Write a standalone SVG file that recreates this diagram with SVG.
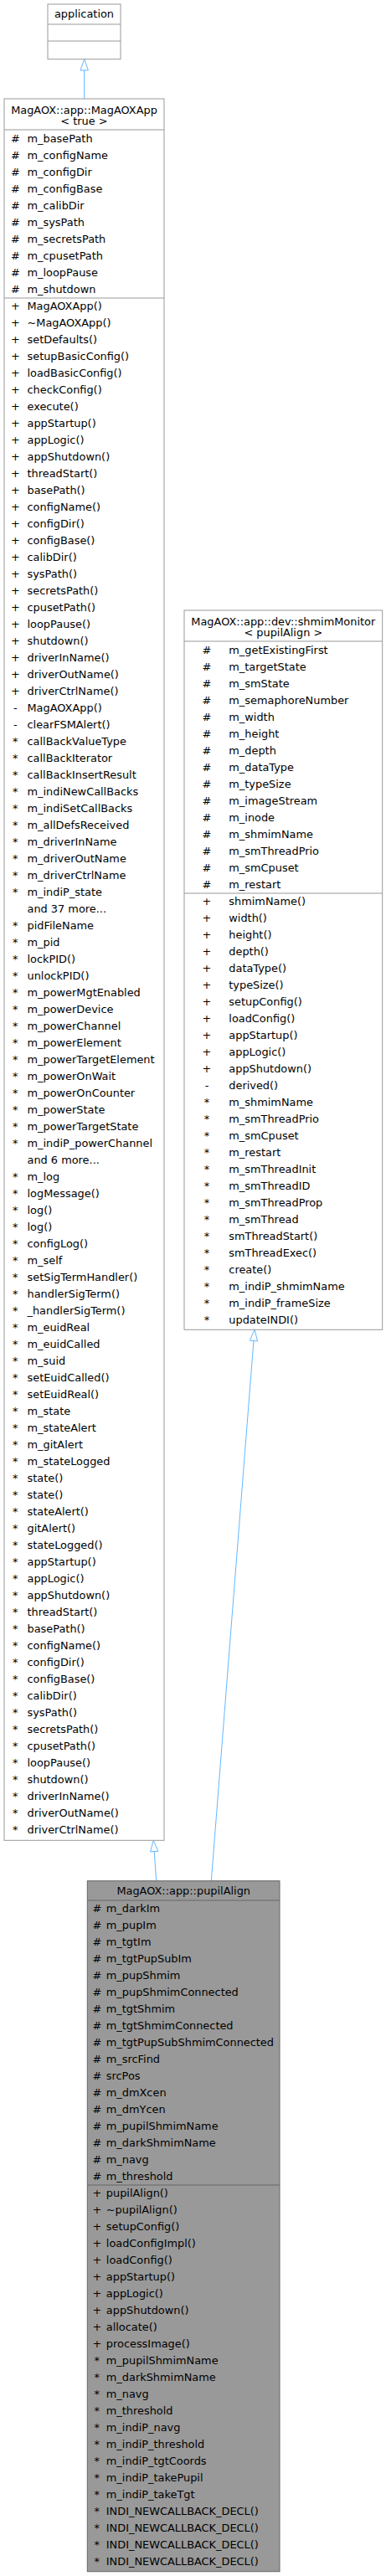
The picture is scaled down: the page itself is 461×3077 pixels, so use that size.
<svg xmlns="http://www.w3.org/2000/svg" width="461" height="3077" viewBox="0 0 461 3077">
<style>
text{font-family:"DejaVu Sans","Liberation Sans",sans-serif;font-size:12.9px;fill:#000}
.c{text-anchor:middle}
.box{fill:#fff;stroke:#999;stroke-width:1}
.hl{fill:#999;stroke:#666;stroke-width:1}
.dv{stroke:#999;stroke-width:1}
.dvh{stroke:#666;stroke-width:1}
.e{fill:none;stroke:#63b8ff;stroke-width:1}
</style>
<rect width="461" height="3077" fill="#fff"/>
<g id="edges">
<line class="e" x1="100.7" y1="84" x2="100.7" y2="118"/>
<polygon class="e" points="100.7,70.7 105.4,84 96,84"/>
<line class="e" x1="184.2" y1="2211.6" x2="186.7" y2="2246.7"/>
<polygon class="e" points="183.3,2198.3 188.9,2211.3 179.5,2211.9"/>
<line class="e" x1="302.95" y1="1601.6" x2="252.3" y2="2246.7"/>
<polygon class="e" points="304,1588.3 307.6,1602 298.3,1601.2"/>
</g>
<g id="application">
<rect class="box" x="57" y="5" width="87" height="65.7"/>
<line class="dv" x1="57" y1="29" x2="144" y2="29"/>
<line class="dv" x1="57" y1="49" x2="144" y2="49"/>
<text class="c" x="100.5" y="21">application</text>
</g>
<g id="MagAOXApp">
<rect class="box" x="5" y="118" width="191" height="2080.3"/>
<line class="dv" x1="5" y1="155" x2="196" y2="155"/>
<line class="dv" x1="5" y1="356" x2="196" y2="356"/>
<text class="c" x="100.5" y="135.5">MagAOX::app::MagAOXApp</text>
<text class="c" x="100.5" y="149">&lt; true &gt;</text>
<text class="c" x="18.3" y="169.5">#</text><text x="32.5" y="169.5">m_basePath</text>
<text class="c" x="18.3" y="189.5">#</text><text x="32.5" y="189.5">m_configName</text>
<text class="c" x="18.3" y="209.5">#</text><text x="32.5" y="209.5">m_configDir</text>
<text class="c" x="18.3" y="229.5">#</text><text x="32.5" y="229.5">m_configBase</text>
<text class="c" x="18.3" y="249.5">#</text><text x="32.5" y="249.5">m_calibDir</text>
<text class="c" x="18.3" y="269.5">#</text><text x="32.5" y="269.5">m_sysPath</text>
<text class="c" x="18.3" y="289.5">#</text><text x="32.5" y="289.5">m_secretsPath</text>
<text class="c" x="18.3" y="309.5">#</text><text x="32.5" y="309.5">m_cpusetPath</text>
<text class="c" x="18.3" y="329.5">#</text><text x="32.5" y="329.5">m_loopPause</text>
<text class="c" x="18.3" y="349.5">#</text><text x="32.5" y="349.5">m_shutdown</text>
<text class="c" x="18.3" y="369.5">+</text><text x="32.5" y="369.5">MagAOXApp()</text>
<text class="c" x="18.3" y="389.5">+</text><text x="32.5" y="389.5">~MagAOXApp()</text>
<text class="c" x="18.3" y="409.5">+</text><text x="32.5" y="409.5">setDefaults()</text>
<text class="c" x="18.3" y="429.5">+</text><text x="32.5" y="429.5">setupBasicConfig()</text>
<text class="c" x="18.3" y="449.5">+</text><text x="32.5" y="449.5">loadBasicConfig()</text>
<text class="c" x="18.3" y="469.5">+</text><text x="32.5" y="469.5">checkConfig()</text>
<text class="c" x="18.3" y="489.5">+</text><text x="32.5" y="489.5">execute()</text>
<text class="c" x="18.3" y="509.5">+</text><text x="32.5" y="509.5">appStartup()</text>
<text class="c" x="18.3" y="529.5">+</text><text x="32.5" y="529.5">appLogic()</text>
<text class="c" x="18.3" y="549.5">+</text><text x="32.5" y="549.5">appShutdown()</text>
<text class="c" x="18.3" y="569.5">+</text><text x="32.5" y="569.5">threadStart()</text>
<text class="c" x="18.3" y="589.5">+</text><text x="32.5" y="589.5">basePath()</text>
<text class="c" x="18.3" y="609.5">+</text><text x="32.5" y="609.5">configName()</text>
<text class="c" x="18.3" y="629.5">+</text><text x="32.5" y="629.5">configDir()</text>
<text class="c" x="18.3" y="649.5">+</text><text x="32.5" y="649.5">configBase()</text>
<text class="c" x="18.3" y="669.5">+</text><text x="32.5" y="669.5">calibDir()</text>
<text class="c" x="18.3" y="689.5">+</text><text x="32.5" y="689.5">sysPath()</text>
<text class="c" x="18.3" y="709.5">+</text><text x="32.5" y="709.5">secretsPath()</text>
<text class="c" x="18.3" y="729.5">+</text><text x="32.5" y="729.5">cpusetPath()</text>
<text class="c" x="18.3" y="749.5">+</text><text x="32.5" y="749.5">loopPause()</text>
<text class="c" x="18.3" y="769.5">+</text><text x="32.5" y="769.5">shutdown()</text>
<text class="c" x="18.3" y="789.5">+</text><text x="32.5" y="789.5">driverInName()</text>
<text class="c" x="18.3" y="809.5">+</text><text x="32.5" y="809.5">driverOutName()</text>
<text class="c" x="18.3" y="829.5">+</text><text x="32.5" y="829.5">driverCtrlName()</text>
<text class="c" x="18.3" y="849.5">-</text><text x="32.5" y="849.5">MagAOXApp()</text>
<text class="c" x="18.3" y="869.5">-</text><text x="32.5" y="869.5">clearFSMAlert()</text>
<text class="c" x="18.3" y="889.5">*</text><text x="32.5" y="889.5">callBackValueType</text>
<text class="c" x="18.3" y="909.5">*</text><text x="32.5" y="909.5">callBackIterator</text>
<text class="c" x="18.3" y="929.5">*</text><text x="32.5" y="929.5">callBackInsertResult</text>
<text class="c" x="18.3" y="949.5">*</text><text x="32.5" y="949.5">m_indiNewCallBacks</text>
<text class="c" x="18.3" y="969.5">*</text><text x="32.5" y="969.5">m_indiSetCallBacks</text>
<text class="c" x="18.3" y="989.5">*</text><text x="32.5" y="989.5">m_allDefsReceived</text>
<text class="c" x="18.3" y="1009.5">*</text><text x="32.5" y="1009.5">m_driverInName</text>
<text class="c" x="18.3" y="1029.5">*</text><text x="32.5" y="1029.5">m_driverOutName</text>
<text class="c" x="18.3" y="1049.5">*</text><text x="32.5" y="1049.5">m_driverCtrlName</text>
<text class="c" x="18.3" y="1069.5">*</text><text x="32.5" y="1069.5">m_indiP_state</text>
<text x="32.5" y="1089.5">and 37 more...</text>
<text class="c" x="18.3" y="1109.5">*</text><text x="32.5" y="1109.5">pidFileName</text>
<text class="c" x="18.3" y="1129.5">*</text><text x="32.5" y="1129.5">m_pid</text>
<text class="c" x="18.3" y="1149.5">*</text><text x="32.5" y="1149.5">lockPID()</text>
<text class="c" x="18.3" y="1169.5">*</text><text x="32.5" y="1169.5">unlockPID()</text>
<text class="c" x="18.3" y="1189.5">*</text><text x="32.5" y="1189.5">m_powerMgtEnabled</text>
<text class="c" x="18.3" y="1209.5">*</text><text x="32.5" y="1209.5">m_powerDevice</text>
<text class="c" x="18.3" y="1229.5">*</text><text x="32.5" y="1229.5">m_powerChannel</text>
<text class="c" x="18.3" y="1249.5">*</text><text x="32.5" y="1249.5">m_powerElement</text>
<text class="c" x="18.3" y="1269.5">*</text><text x="32.5" y="1269.5">m_powerTargetElement</text>
<text class="c" x="18.3" y="1289.5">*</text><text x="32.5" y="1289.5">m_powerOnWait</text>
<text class="c" x="18.3" y="1309.5">*</text><text x="32.5" y="1309.5">m_powerOnCounter</text>
<text class="c" x="18.3" y="1329.5">*</text><text x="32.5" y="1329.5">m_powerState</text>
<text class="c" x="18.3" y="1349.5">*</text><text x="32.5" y="1349.5">m_powerTargetState</text>
<text class="c" x="18.3" y="1369.5">*</text><text x="32.5" y="1369.5">m_indiP_powerChannel</text>
<text x="32.5" y="1389.5">and 6 more...</text>
<text class="c" x="18.3" y="1409.5">*</text><text x="32.5" y="1409.5">m_log</text>
<text class="c" x="18.3" y="1429.5">*</text><text x="32.5" y="1429.5">logMessage()</text>
<text class="c" x="18.3" y="1449.5">*</text><text x="32.5" y="1449.5">log()</text>
<text class="c" x="18.3" y="1469.5">*</text><text x="32.5" y="1469.5">log()</text>
<text class="c" x="18.3" y="1489.5">*</text><text x="32.5" y="1489.5">configLog()</text>
<text class="c" x="18.3" y="1509.5">*</text><text x="32.5" y="1509.5">m_self</text>
<text class="c" x="18.3" y="1529.5">*</text><text x="32.5" y="1529.5">setSigTermHandler()</text>
<text class="c" x="18.3" y="1549.5">*</text><text x="32.5" y="1549.5">handlerSigTerm()</text>
<text class="c" x="18.3" y="1569.5">*</text><text x="32.5" y="1569.5">_handlerSigTerm()</text>
<text class="c" x="18.3" y="1589.5">*</text><text x="32.5" y="1589.5">m_euidReal</text>
<text class="c" x="18.3" y="1609.5">*</text><text x="32.5" y="1609.5">m_euidCalled</text>
<text class="c" x="18.3" y="1629.5">*</text><text x="32.5" y="1629.5">m_suid</text>
<text class="c" x="18.3" y="1649.5">*</text><text x="32.5" y="1649.5">setEuidCalled()</text>
<text class="c" x="18.3" y="1669.5">*</text><text x="32.5" y="1669.5">setEuidReal()</text>
<text class="c" x="18.3" y="1689.5">*</text><text x="32.5" y="1689.5">m_state</text>
<text class="c" x="18.3" y="1709.5">*</text><text x="32.5" y="1709.5">m_stateAlert</text>
<text class="c" x="18.3" y="1729.5">*</text><text x="32.5" y="1729.5">m_gitAlert</text>
<text class="c" x="18.3" y="1749.5">*</text><text x="32.5" y="1749.5">m_stateLogged</text>
<text class="c" x="18.3" y="1769.5">*</text><text x="32.5" y="1769.5">state()</text>
<text class="c" x="18.3" y="1789.5">*</text><text x="32.5" y="1789.5">state()</text>
<text class="c" x="18.3" y="1809.5">*</text><text x="32.5" y="1809.5">stateAlert()</text>
<text class="c" x="18.3" y="1829.5">*</text><text x="32.5" y="1829.5">gitAlert()</text>
<text class="c" x="18.3" y="1849.5">*</text><text x="32.5" y="1849.5">stateLogged()</text>
<text class="c" x="18.3" y="1869.5">*</text><text x="32.5" y="1869.5">appStartup()</text>
<text class="c" x="18.3" y="1889.5">*</text><text x="32.5" y="1889.5">appLogic()</text>
<text class="c" x="18.3" y="1909.5">*</text><text x="32.5" y="1909.5">appShutdown()</text>
<text class="c" x="18.3" y="1929.5">*</text><text x="32.5" y="1929.5">threadStart()</text>
<text class="c" x="18.3" y="1949.5">*</text><text x="32.5" y="1949.5">basePath()</text>
<text class="c" x="18.3" y="1969.5">*</text><text x="32.5" y="1969.5">configName()</text>
<text class="c" x="18.3" y="1989.5">*</text><text x="32.5" y="1989.5">configDir()</text>
<text class="c" x="18.3" y="2009.5">*</text><text x="32.5" y="2009.5">configBase()</text>
<text class="c" x="18.3" y="2029.5">*</text><text x="32.5" y="2029.5">calibDir()</text>
<text class="c" x="18.3" y="2049.5">*</text><text x="32.5" y="2049.5">sysPath()</text>
<text class="c" x="18.3" y="2069.5">*</text><text x="32.5" y="2069.5">secretsPath()</text>
<text class="c" x="18.3" y="2089.5">*</text><text x="32.5" y="2089.5">cpusetPath()</text>
<text class="c" x="18.3" y="2109.5">*</text><text x="32.5" y="2109.5">loopPause()</text>
<text class="c" x="18.3" y="2129.5">*</text><text x="32.5" y="2129.5">shutdown()</text>
<text class="c" x="18.3" y="2149.5">*</text><text x="32.5" y="2149.5">driverInName()</text>
<text class="c" x="18.3" y="2169.5">*</text><text x="32.5" y="2169.5">driverOutName()</text>
<text class="c" x="18.3" y="2189.5">*</text><text x="32.5" y="2189.5">driverCtrlName()</text>
</g>
<g id="shmimMonitor">
<rect class="box" x="220" y="729" width="236.7" height="859.3"/>
<line class="dv" x1="220" y1="766" x2="456.7" y2="766"/>
<line class="dv" x1="220" y1="1067" x2="456.7" y2="1067"/>
<text class="c" x="338.3" y="746.5">MagAOX::app::dev::shmimMonitor</text>
<text class="c" x="338.3" y="760">&lt; pupilAlign &gt;</text>
<text class="c" x="247" y="780.5">#</text><text x="273.3" y="780.5">m_getExistingFirst</text>
<text class="c" x="247" y="800.5">#</text><text x="273.3" y="800.5">m_targetState</text>
<text class="c" x="247" y="820.5">#</text><text x="273.3" y="820.5">m_smState</text>
<text class="c" x="247" y="840.5">#</text><text x="273.3" y="840.5">m_semaphoreNumber</text>
<text class="c" x="247" y="860.5">#</text><text x="273.3" y="860.5">m_width</text>
<text class="c" x="247" y="880.5">#</text><text x="273.3" y="880.5">m_height</text>
<text class="c" x="247" y="900.5">#</text><text x="273.3" y="900.5">m_depth</text>
<text class="c" x="247" y="920.5">#</text><text x="273.3" y="920.5">m_dataType</text>
<text class="c" x="247" y="940.5">#</text><text x="273.3" y="940.5">m_typeSize</text>
<text class="c" x="247" y="960.5">#</text><text x="273.3" y="960.5">m_imageStream</text>
<text class="c" x="247" y="980.5">#</text><text x="273.3" y="980.5">m_inode</text>
<text class="c" x="247" y="1000.5">#</text><text x="273.3" y="1000.5">m_shmimName</text>
<text class="c" x="247" y="1020.5">#</text><text x="273.3" y="1020.5">m_smThreadPrio</text>
<text class="c" x="247" y="1040.5">#</text><text x="273.3" y="1040.5">m_smCpuset</text>
<text class="c" x="247" y="1060.5">#</text><text x="273.3" y="1060.5">m_restart</text>
<text class="c" x="247" y="1080.5">+</text><text x="273.3" y="1080.5">shmimName()</text>
<text class="c" x="247" y="1100.5">+</text><text x="273.3" y="1100.5">width()</text>
<text class="c" x="247" y="1120.5">+</text><text x="273.3" y="1120.5">height()</text>
<text class="c" x="247" y="1140.5">+</text><text x="273.3" y="1140.5">depth()</text>
<text class="c" x="247" y="1160.5">+</text><text x="273.3" y="1160.5">dataType()</text>
<text class="c" x="247" y="1180.5">+</text><text x="273.3" y="1180.5">typeSize()</text>
<text class="c" x="247" y="1200.5">+</text><text x="273.3" y="1200.5">setupConfig()</text>
<text class="c" x="247" y="1220.5">+</text><text x="273.3" y="1220.5">loadConfig()</text>
<text class="c" x="247" y="1240.5">+</text><text x="273.3" y="1240.5">appStartup()</text>
<text class="c" x="247" y="1260.5">+</text><text x="273.3" y="1260.5">appLogic()</text>
<text class="c" x="247" y="1280.5">+</text><text x="273.3" y="1280.5">appShutdown()</text>
<text class="c" x="247" y="1300.5">-</text><text x="273.3" y="1300.5">derived()</text>
<text class="c" x="247" y="1320.5">*</text><text x="273.3" y="1320.5">m_shmimName</text>
<text class="c" x="247" y="1340.5">*</text><text x="273.3" y="1340.5">m_smThreadPrio</text>
<text class="c" x="247" y="1360.5">*</text><text x="273.3" y="1360.5">m_smCpuset</text>
<text class="c" x="247" y="1380.5">*</text><text x="273.3" y="1380.5">m_restart</text>
<text class="c" x="247" y="1400.5">*</text><text x="273.3" y="1400.5">m_smThreadInit</text>
<text class="c" x="247" y="1420.5">*</text><text x="273.3" y="1420.5">m_smThreadID</text>
<text class="c" x="247" y="1440.5">*</text><text x="273.3" y="1440.5">m_smThreadProp</text>
<text class="c" x="247" y="1460.5">*</text><text x="273.3" y="1460.5">m_smThread</text>
<text class="c" x="247" y="1480.5">*</text><text x="273.3" y="1480.5">smThreadStart()</text>
<text class="c" x="247" y="1500.5">*</text><text x="273.3" y="1500.5">smThreadExec()</text>
<text class="c" x="247" y="1520.5">*</text><text x="273.3" y="1520.5">create()</text>
<text class="c" x="247" y="1540.5">*</text><text x="273.3" y="1540.5">m_indiP_shmimName</text>
<text class="c" x="247" y="1560.5">*</text><text x="273.3" y="1560.5">m_indiP_frameSize</text>
<text class="c" x="247" y="1580.5">*</text><text x="273.3" y="1580.5">updateINDI()</text>
</g>
<g id="pupilAlign">
<rect class="hl" x="104.3" y="2246.7" width="229.7" height="825"/>
<line class="dvh" x1="104.3" y1="2270" x2="334" y2="2270"/>
<line class="dvh" x1="104.3" y1="2610" x2="334" y2="2610"/>
<text class="c" x="219.2" y="2263">MagAOX::app::pupilAlign</text>
<text class="c" x="115.8" y="2283.5">#</text><text x="126.8" y="2283.5">m_darkIm</text>
<text class="c" x="115.8" y="2303.5">#</text><text x="126.8" y="2303.5">m_pupIm</text>
<text class="c" x="115.8" y="2323.5">#</text><text x="126.8" y="2323.5">m_tgtIm</text>
<text class="c" x="115.8" y="2343.5">#</text><text x="126.8" y="2343.5">m_tgtPupSubIm</text>
<text class="c" x="115.8" y="2363.5">#</text><text x="126.8" y="2363.5">m_pupShmim</text>
<text class="c" x="115.8" y="2383.5">#</text><text x="126.8" y="2383.5">m_pupShmimConnected</text>
<text class="c" x="115.8" y="2403.5">#</text><text x="126.8" y="2403.5">m_tgtShmim</text>
<text class="c" x="115.8" y="2423.5">#</text><text x="126.8" y="2423.5">m_tgtShmimConnected</text>
<text class="c" x="115.8" y="2443.5">#</text><text x="126.8" y="2443.5">m_tgtPupSubShmimConnected</text>
<text class="c" x="115.8" y="2463.5">#</text><text x="126.8" y="2463.5">m_srcFind</text>
<text class="c" x="115.8" y="2483.5">#</text><text x="126.8" y="2483.5">srcPos</text>
<text class="c" x="115.8" y="2503.5">#</text><text x="126.8" y="2503.5">m_dmXcen</text>
<text class="c" x="115.8" y="2523.5">#</text><text x="126.8" y="2523.5">m_dmYcen</text>
<text class="c" x="115.8" y="2543.5">#</text><text x="126.8" y="2543.5">m_pupilShmimName</text>
<text class="c" x="115.8" y="2563.5">#</text><text x="126.8" y="2563.5">m_darkShmimName</text>
<text class="c" x="115.8" y="2583.5">#</text><text x="126.8" y="2583.5">m_navg</text>
<text class="c" x="115.8" y="2603.5">#</text><text x="126.8" y="2603.5">m_threshold</text>
<text class="c" x="115.8" y="2623.5">+</text><text x="126.8" y="2623.5">pupilAlign()</text>
<text class="c" x="115.8" y="2643.5">+</text><text x="126.8" y="2643.5">~pupilAlign()</text>
<text class="c" x="115.8" y="2663.5">+</text><text x="126.8" y="2663.5">setupConfig()</text>
<text class="c" x="115.8" y="2683.5">+</text><text x="126.8" y="2683.5">loadConfigImpl()</text>
<text class="c" x="115.8" y="2703.5">+</text><text x="126.8" y="2703.5">loadConfig()</text>
<text class="c" x="115.8" y="2723.5">+</text><text x="126.8" y="2723.5">appStartup()</text>
<text class="c" x="115.8" y="2743.5">+</text><text x="126.8" y="2743.5">appLogic()</text>
<text class="c" x="115.8" y="2763.5">+</text><text x="126.8" y="2763.5">appShutdown()</text>
<text class="c" x="115.8" y="2783.5">+</text><text x="126.8" y="2783.5">allocate()</text>
<text class="c" x="115.8" y="2803.5">+</text><text x="126.8" y="2803.5">processImage()</text>
<text class="c" x="115.8" y="2823.5">*</text><text x="126.8" y="2823.5">m_pupilShmimName</text>
<text class="c" x="115.8" y="2843.5">*</text><text x="126.8" y="2843.5">m_darkShmimName</text>
<text class="c" x="115.8" y="2863.5">*</text><text x="126.8" y="2863.5">m_navg</text>
<text class="c" x="115.8" y="2883.5">*</text><text x="126.8" y="2883.5">m_threshold</text>
<text class="c" x="115.8" y="2903.5">*</text><text x="126.8" y="2903.5">m_indiP_navg</text>
<text class="c" x="115.8" y="2923.5">*</text><text x="126.8" y="2923.5">m_indiP_threshold</text>
<text class="c" x="115.8" y="2943.5">*</text><text x="126.8" y="2943.5">m_indiP_tgtCoords</text>
<text class="c" x="115.8" y="2963.5">*</text><text x="126.8" y="2963.5">m_indiP_takePupil</text>
<text class="c" x="115.8" y="2983.5">*</text><text x="126.8" y="2983.5">m_indiP_takeTgt</text>
<text class="c" x="115.8" y="3003.5">*</text><text x="126.8" y="3003.5">INDI_NEWCALLBACK_DECL()</text>
<text class="c" x="115.8" y="3023.5">*</text><text x="126.8" y="3023.5">INDI_NEWCALLBACK_DECL()</text>
<text class="c" x="115.8" y="3043.5">*</text><text x="126.8" y="3043.5">INDI_NEWCALLBACK_DECL()</text>
<text class="c" x="115.8" y="3063.5">*</text><text x="126.8" y="3063.5">INDI_NEWCALLBACK_DECL()</text>
</g>
</svg>
